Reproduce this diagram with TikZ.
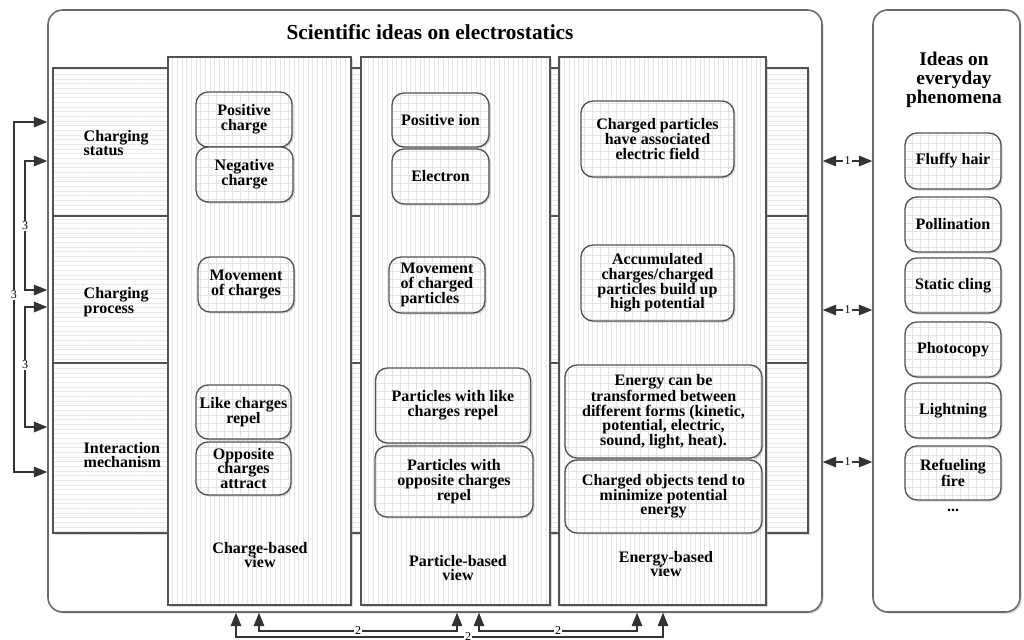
\documentclass[tikz,border=0pt]{standalone}
\usepackage{fontspec}
\setmainfont{Liberation Serif}
\usetikzlibrary{patterns.meta,shadows,arrows.meta,calc}
\begin{document}
\begin{tikzpicture}[x=0.75pt,y=-0.75pt]
\tikzset{
 nf/.style={font=\fontsize{12}{11}\selectfont\bfseries},
 bord/.style={draw=black!68, line width=1pt},
 shad/.style={drop shadow={shadow xshift=1.2pt,shadow yshift=-1.2pt,opacity=0.3}},
 idea/.style={bord, rounded corners=9pt, shad, preaction={fill=white},
   pattern={Hatch[angle=0,distance=6pt,line width=0.25pt]}, pattern color=black!11,
   align=center, nf, inner sep=1pt},
 sz/.style 2 args={minimum width=#1*0.75pt, minimum height=#2*0.75pt},
 colbox/.style={bord, shad, preaction={fill=white},
   pattern={Lines[angle=90,distance=3.5pt,line width=0.4pt]}, pattern color=black!10, inner sep=0pt},
 rowband/.style={bord, shad, preaction={fill=white},
   pattern={Lines[angle=0,distance=3.5pt,line width=0.4pt]}, pattern color=black!9, inner sep=0pt},
 frame/.style={draw=black!58, line width=1.2pt, rounded corners=11pt, fill=white, shad, inner sep=0pt},
 darr/.style={draw=black!80, line width=0.8pt, {Triangle[length=10pt,width=8pt]}-{Triangle[length=10pt,width=8pt]}},
 lbl/.style={fill=white, inner sep=1pt, font=\fontsize{9}{10}\selectfont},
}
\useasboundingbox (0,0) rectangle (1024,639);

% frames
\node[frame, sz={774}{602}] (sci) at (435,311) {};
\node[frame, sz={147}{602}] (day) at (946.5,311) {};

% row bands
\node[rowband, sz={755}{148}] (r1) at (430.5,142) {};
\node[rowband, sz={755}{147}] (r2) at (430.5,289.5) {};
\node[rowband, sz={755}{170}] (r3) at (430.5,448) {};

% columns
\node[colbox, sz={183}{548}] (ccol) at (259.5,331) {};
\node[colbox, sz={189}{548}] (pcol) at (455.5,331) {};
\node[colbox, sz={207}{548}] (ecol) at (662.5,331) {};

% titles
\node[font=\fontsize{16}{18}\selectfont\bfseries] (title) at (430,32) {Scientific ideas on electrostatics};
\node[font=\fontsize{14.5}{14}\selectfont\bfseries, align=center] (daytitle) at (954,80) {Ideas on\\everyday\\phenomena};

% row labels
\node[nf, align=left, anchor=west] (l1) at (79,143) {Charging\\status};
\node[nf, align=left, anchor=west] (l2) at (79,302) {Charging\\process};
\node[nf, align=left, anchor=west] (l3) at (79,455) {Interaction\\mechanism};

% charge-based
\node[idea, sz={96}{55}] (pc) at (244,119.5) {Positive\\charge};
\node[idea, sz={97}{55}] (nc) at (244.5,174.5) {Negative\\charge};
\node[idea, sz={96}{55}] (mc) at (246,284.5) {Movement\\of charges};
\node[idea, sz={95}{54}] (lc) at (243.5,412) {Like charges\\repel};
\node[idea, sz={95}{53}] (oc) at (243.5,468.5) {Opposite\\charges\\attract};
\node[nf, align=center] (cbv) at (260,555) {Charge-based\\view};

% particle-based
\node[idea, sz={97}{54}] (pi) at (440.5,120) {Positive ion};
\node[idea, sz={97}{55}] (el) at (440.5,176.5) {Electron};
\node[idea, sz={96}{56}, align=left] (mp) at (437,285) {Movement\\of charged\\particles};
\node[idea, sz={155}{75}] (pl) at (453,405.5) {Particles with like\\charges repel};
\node[idea, sz={158}{71}] (po) at (454,481.5) {Particles with\\opposite charges\\repel};
\node[nf, align=center] (pbv) at (458,568) {Particle-based\\view};

% energy-based
\node[idea, sz={153}{76}] (cp) at (657.5,139) {Charged particles\\have associated\\electric field};
\node[idea, sz={153}{76}] (ac) at (657.5,283) {Accumulated\\charges/charged\\particles build up\\high potential};
\node[idea, sz={197}{93}] (ec) at (663.5,411.5) {Energy can be\\transformed between\\different forms (kinetic,\\potential, electric,\\sound, light, heat).};
\node[idea, sz={197}{73}] (co) at (663.5,496.5) {Charged objects tend to\\minimize potential\\energy};
\node[nf, align=center] (ebv) at (666,564) {Energy-based\\view};

% everyday phenomena
\node[idea, sz={96}{56}] (d1) at (953,161) {Fluffy hair};
\node[idea, sz={96}{55}] (d2) at (953,224.5) {Pollination};
\node[idea, sz={96}{55}] (d3) at (953,285.5) {Static cling};
\node[idea, sz={96}{55}] (d4) at (953,349.5) {Photocopy};
\node[idea, sz={96}{55}] (d5) at (953,410.5) {Lightning};
\node[idea, sz={96}{54}] (d6) at (953,473) {Refueling\\fire};
\node[nf] (dots) at (953,510) {...};

% connectors "3"
\draw[darr] (sci.west |- 0,122) -| (14,295) node[lbl]{3} |- (sci.west |- 0,472);
\draw[darr] (sci.west |- 0,161) -| (25,226) node[lbl]{3} |- (sci.west |- 0,290);
\draw[darr] (sci.west |- 0,307) -| (25,365) node[lbl]{3} |- (sci.west |- 0,427);

% connectors "1"
\draw[darr] (sci.east |- 0,161) -- node[lbl]{1} (day.west |- 0,161);
\draw[darr] (sci.east |- 0,310) -- node[lbl]{1} (day.west |- 0,310);
\draw[darr] (sci.east |- 0,462) -- node[lbl]{1} (day.west |- 0,462);

% connectors "2"
\draw[darr] (sci.south -| 236,0) |- (468,637) node[lbl]{2} -| (sci.south -| 663,0);
\draw[darr] (sci.south -| 259,0) |- (358,631) node[lbl]{2} -| (sci.south -| 457,0);
\draw[darr] (sci.south -| 479,0) |- (558,631) node[lbl]{2} -| (sci.south -| 637,0);
\end{tikzpicture}
\end{document}
